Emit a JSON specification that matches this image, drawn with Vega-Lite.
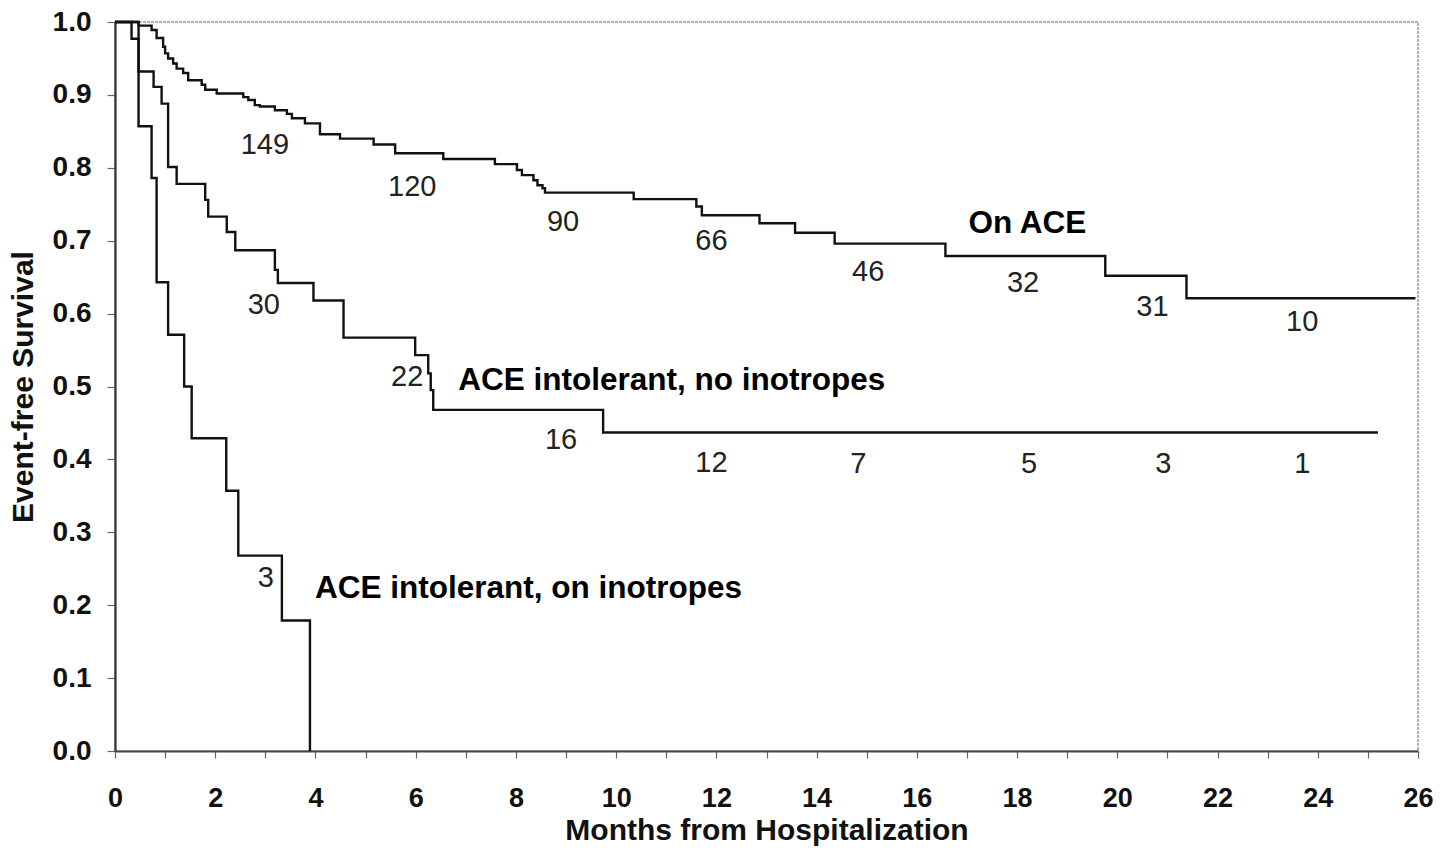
{
  "$schema": "https://vega.github.io/schema/vega-lite/v6.json",
  "width": 1303,
  "height": 729,
  "autosize": {"type": "none"},
  "padding": {"left": 115, "top": 22, "right": 32, "bottom": 107},
  "background": "white",
  "view": {"stroke": "#9a9a9a", "strokeWidth": 1.5, "strokeDash": [3, 1]},
  "config": {
    "font": "Liberation Sans",
    "axis": {"grid": false}
  },
  "datasets": {
    "curves": [
      {"group": "On ACE", "month": 0, "surv": 1.0},
      {"group": "On ACE", "month": 0.47, "surv": 0.995},
      {"group": "On ACE", "month": 0.73, "surv": 0.989},
      {"group": "On ACE", "month": 0.83, "surv": 0.978},
      {"group": "On ACE", "month": 0.96, "surv": 0.966},
      {"group": "On ACE", "month": 1.0, "surv": 0.957},
      {"group": "On ACE", "month": 1.06, "surv": 0.95},
      {"group": "On ACE", "month": 1.16, "surv": 0.943},
      {"group": "On ACE", "month": 1.23, "surv": 0.936},
      {"group": "On ACE", "month": 1.36, "surv": 0.93},
      {"group": "On ACE", "month": 1.46, "surv": 0.92},
      {"group": "On ACE", "month": 1.73, "surv": 0.914},
      {"group": "On ACE", "month": 1.8, "surv": 0.907},
      {"group": "On ACE", "month": 2.03, "surv": 0.902},
      {"group": "On ACE", "month": 2.56, "surv": 0.897},
      {"group": "On ACE", "month": 2.66, "surv": 0.893},
      {"group": "On ACE", "month": 2.79, "surv": 0.886},
      {"group": "On ACE", "month": 2.89, "surv": 0.884},
      {"group": "On ACE", "month": 3.19, "surv": 0.879},
      {"group": "On ACE", "month": 3.43, "surv": 0.874},
      {"group": "On ACE", "month": 3.53, "surv": 0.868},
      {"group": "On ACE", "month": 3.79, "surv": 0.861},
      {"group": "On ACE", "month": 4.09, "surv": 0.846},
      {"group": "On ACE", "month": 4.49, "surv": 0.84},
      {"group": "On ACE", "month": 5.16, "surv": 0.832},
      {"group": "On ACE", "month": 5.59, "surv": 0.82},
      {"group": "On ACE", "month": 6.55, "surv": 0.812},
      {"group": "On ACE", "month": 7.58, "surv": 0.805},
      {"group": "On ACE", "month": 8.02, "surv": 0.797},
      {"group": "On ACE", "month": 8.12, "surv": 0.79},
      {"group": "On ACE", "month": 8.35, "surv": 0.783},
      {"group": "On ACE", "month": 8.43, "surv": 0.776},
      {"group": "On ACE", "month": 8.53, "surv": 0.772},
      {"group": "On ACE", "month": 8.58, "surv": 0.766},
      {"group": "On ACE", "month": 10.35, "surv": 0.757},
      {"group": "On ACE", "month": 11.6, "surv": 0.747},
      {"group": "On ACE", "month": 11.71, "surv": 0.735},
      {"group": "On ACE", "month": 12.86, "surv": 0.724},
      {"group": "On ACE", "month": 13.57, "surv": 0.711},
      {"group": "On ACE", "month": 14.36, "surv": 0.696},
      {"group": "On ACE", "month": 16.57, "surv": 0.679},
      {"group": "On ACE", "month": 19.76, "surv": 0.652},
      {"group": "On ACE", "month": 21.38, "surv": 0.621},
      {"group": "On ACE", "month": 25.95, "surv": 0.621},
      {"group": "No inotropes", "month": 0, "surv": 1.0},
      {"group": "No inotropes", "month": 0.33, "surv": 0.977},
      {"group": "No inotropes", "month": 0.47, "surv": 0.932},
      {"group": "No inotropes", "month": 0.77, "surv": 0.911},
      {"group": "No inotropes", "month": 0.93, "surv": 0.888},
      {"group": "No inotropes", "month": 1.06, "surv": 0.801},
      {"group": "No inotropes", "month": 1.23, "surv": 0.778},
      {"group": "No inotropes", "month": 1.8, "surv": 0.756},
      {"group": "No inotropes", "month": 1.86, "surv": 0.733},
      {"group": "No inotropes", "month": 2.23, "surv": 0.712},
      {"group": "No inotropes", "month": 2.4, "surv": 0.687},
      {"group": "No inotropes", "month": 3.19, "surv": 0.66},
      {"group": "No inotropes", "month": 3.25, "surv": 0.642},
      {"group": "No inotropes", "month": 3.96, "surv": 0.618},
      {"group": "No inotropes", "month": 4.56, "surv": 0.567},
      {"group": "No inotropes", "month": 5.99, "surv": 0.543},
      {"group": "No inotropes", "month": 6.25, "surv": 0.518},
      {"group": "No inotropes", "month": 6.3, "surv": 0.495},
      {"group": "No inotropes", "month": 6.35, "surv": 0.468},
      {"group": "No inotropes", "month": 9.74, "surv": 0.437},
      {"group": "No inotropes", "month": 25.2, "surv": 0.437},
      {"group": "On inotropes", "month": 0, "surv": 1.0},
      {"group": "On inotropes", "month": 0.47, "surv": 0.857},
      {"group": "On inotropes", "month": 0.73, "surv": 0.786},
      {"group": "On inotropes", "month": 0.83, "surv": 0.643},
      {"group": "On inotropes", "month": 1.06, "surv": 0.571},
      {"group": "On inotropes", "month": 1.38, "surv": 0.5},
      {"group": "On inotropes", "month": 1.53, "surv": 0.429},
      {"group": "On inotropes", "month": 2.22, "surv": 0.357},
      {"group": "On inotropes", "month": 2.46, "surv": 0.268},
      {"group": "On inotropes", "month": 3.33, "surv": 0.179},
      {"group": "On inotropes", "month": 3.89, "surv": 0.0}
    ],
    "atrisk": [
      {"month": 2.99, "surv": 0.831, "label": "149"},
      {"month": 5.93, "surv": 0.774, "label": "120"},
      {"month": 8.94, "surv": 0.726, "label": "90"},
      {"month": 11.9, "surv": 0.7, "label": "66"},
      {"month": 15.03, "surv": 0.657, "label": "46"},
      {"month": 18.12, "surv": 0.642, "label": "32"},
      {"month": 20.7, "surv": 0.609, "label": "31"},
      {"month": 23.69, "surv": 0.588, "label": "10"},
      {"month": 2.97, "surv": 0.612, "label": "30"},
      {"month": 5.83, "surv": 0.513, "label": "22"},
      {"month": 8.9, "surv": 0.427, "label": "16"},
      {"month": 11.9, "surv": 0.395, "label": "12"},
      {"month": 14.83, "surv": 0.394, "label": "7"},
      {"month": 18.24, "surv": 0.394, "label": "5"},
      {"month": 20.92, "surv": 0.394, "label": "3"},
      {"month": 23.69, "surv": 0.394, "label": "1"},
      {"month": 3.01, "surv": 0.237, "label": "3"}
    ],
    "names": [
      {"month": 17.03, "surv": 0.723, "label": "On ACE"},
      {"month": 6.85, "surv": 0.508, "label": "ACE intolerant, no inotropes"},
      {"month": 3.99, "surv": 0.222, "label": "ACE intolerant, on inotropes"}
    ]
  },
  "layer": [
    {
      "data": {"name": "curves"},
      "mark": {"type": "line", "interpolate": "step-after", "strokeWidth": 2.4, "color": "#111111"},
      "encoding": {
        "x": {
          "field": "month", "type": "quantitative",
          "scale": {"domain": [0, 26], "nice": false, "zero": false},
          "axis": {
            "title": "Months from Hospitalization",
            "values": [0,1,2,3,4,5,6,7,8,9,10,11,12,13,14,15,16,17,18,19,20,21,22,23,24,25,26],
            "labelExpr": "datum.value % 2 === 0 ? datum.label : ''",
            "labelFont": "Liberation Sans", "labelFontWeight": "bold", "labelFontSize": 27, "labelColor": "#111",
            "labelPadding": 27, "labelFlush": false, "labelOverlap": false,
            "tickSize": 7, "tickColor": "#666", "tickWidth": 1.2,
            "domainColor": "#444", "domainWidth": 2,
            "titleFont": "Liberation Sans", "titleFontWeight": "bold", "titleFontSize": 30, "titleColor": "#111",
            "titlePadding": 4
          }
        },
        "y": {
          "field": "surv", "type": "quantitative",
          "scale": {"domain": [0, 1], "nice": false},
          "axis": {
            "title": "Event-free Survival",
            "values": [0, 0.1, 0.2, 0.3, 0.4, 0.5, 0.6, 0.7, 0.8, 0.9, 1.0],
            "format": ".1f",
            "labelFont": "Liberation Sans", "labelFontWeight": "bold", "labelFontSize": 28, "labelColor": "#111",
            "labelPadding": 16,
            "tickSize": 8, "tickColor": "#666", "tickWidth": 1.2,
            "domainColor": "#333", "domainWidth": 2.2,
            "titleFont": "Liberation Sans", "titleFontWeight": "bold", "titleFontSize": 30, "titleColor": "#111",
            "titlePadding": 14
          }
        },
        "detail": {"field": "group", "type": "nominal"}
      }
    },
    {
      "data": {"name": "atrisk"},
      "mark": {"type": "text", "font": "Liberation Sans", "fontSize": 29, "align": "center", "baseline": "middle", "color": "#222"},
      "encoding": {
        "x": {"field": "month", "type": "quantitative"},
        "y": {"field": "surv", "type": "quantitative"},
        "text": {"field": "label", "type": "nominal"}
      }
    },
    {
      "data": {"name": "names"},
      "mark": {"type": "text", "font": "Liberation Sans", "fontWeight": "bold", "fontSize": 31.5, "align": "left", "baseline": "middle", "color": "#000"},
      "encoding": {
        "x": {"field": "month", "type": "quantitative"},
        "y": {"field": "surv", "type": "quantitative"},
        "text": {"field": "label", "type": "nominal"}
      }
    }
  ]
}
